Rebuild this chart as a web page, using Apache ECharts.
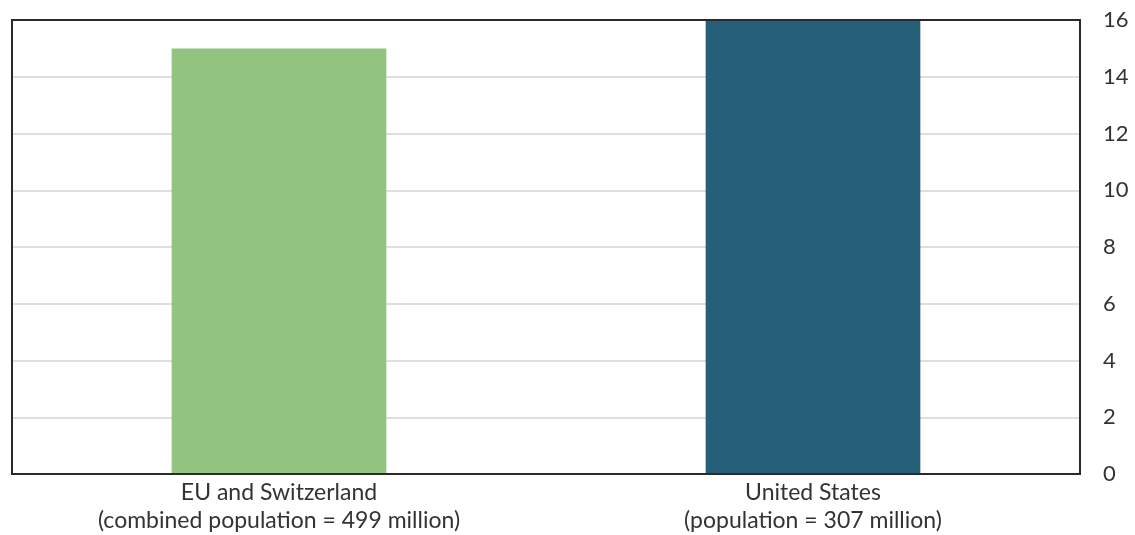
<!DOCTYPE html>
<html>
<head>
<meta charset="utf-8">
<script src="https://cdn.jsdelivr.net/npm/echarts@6/dist/echarts.min.js"></script>
<style>html,body{margin:0;padding:0;background:#fff;}#c{width:1135px;height:535px;}</style>
</head>
<body>
<div id="c"></div>
<script>
const categories = ['EU and Switzerland\n(combined population = 499 million)', 'United States\n(population = 307 million)'];
const values = [15.0, 16.0];
const barColors = ['#93c47f', '#265f7a'];
const yTicks = { min: 0, max: 16, interval: 2 };

const chart = echarts.init(document.getElementById('c'), null, { renderer: 'canvas' });
chart.setOption({
  animation: false,
  backgroundColor: '#fff',
  grid: { left: 12, right: 55, top: 20, bottom: 60, show: true, borderColor: '#2a2a2a', borderWidth: 2, backgroundColor: 'transparent', z: 10 },
  xAxis: {
    type: 'category',
    data: categories,
    axisLine: { show: false },
    axisTick: { show: false },
    axisLabel: { color: '#333', fontSize: 23, fontFamily: 'Lato, "Noto Sans", sans-serif', lineHeight: 28, margin: 5 }
  },
  yAxis: {
    type: 'value',
    position: 'right',
    min: yTicks.min, max: yTicks.max, interval: yTicks.interval,
    axisLine: { show: false },
    axisTick: { show: false },
    splitLine: { lineStyle: { color: '#d4d4d4', width: 1.5 } },
    axisLabel: { color: '#333', fontSize: 22, fontFamily: 'Lato, "Noto Sans", sans-serif', margin: 23 }
  },
  series: [{
    type: 'bar',
    data: values.map((v, i) => ({ value: v, itemStyle: { color: barColors[i] } })),
    barWidth: '40.2%'
  }]
});
</script>
</body>
</html>
